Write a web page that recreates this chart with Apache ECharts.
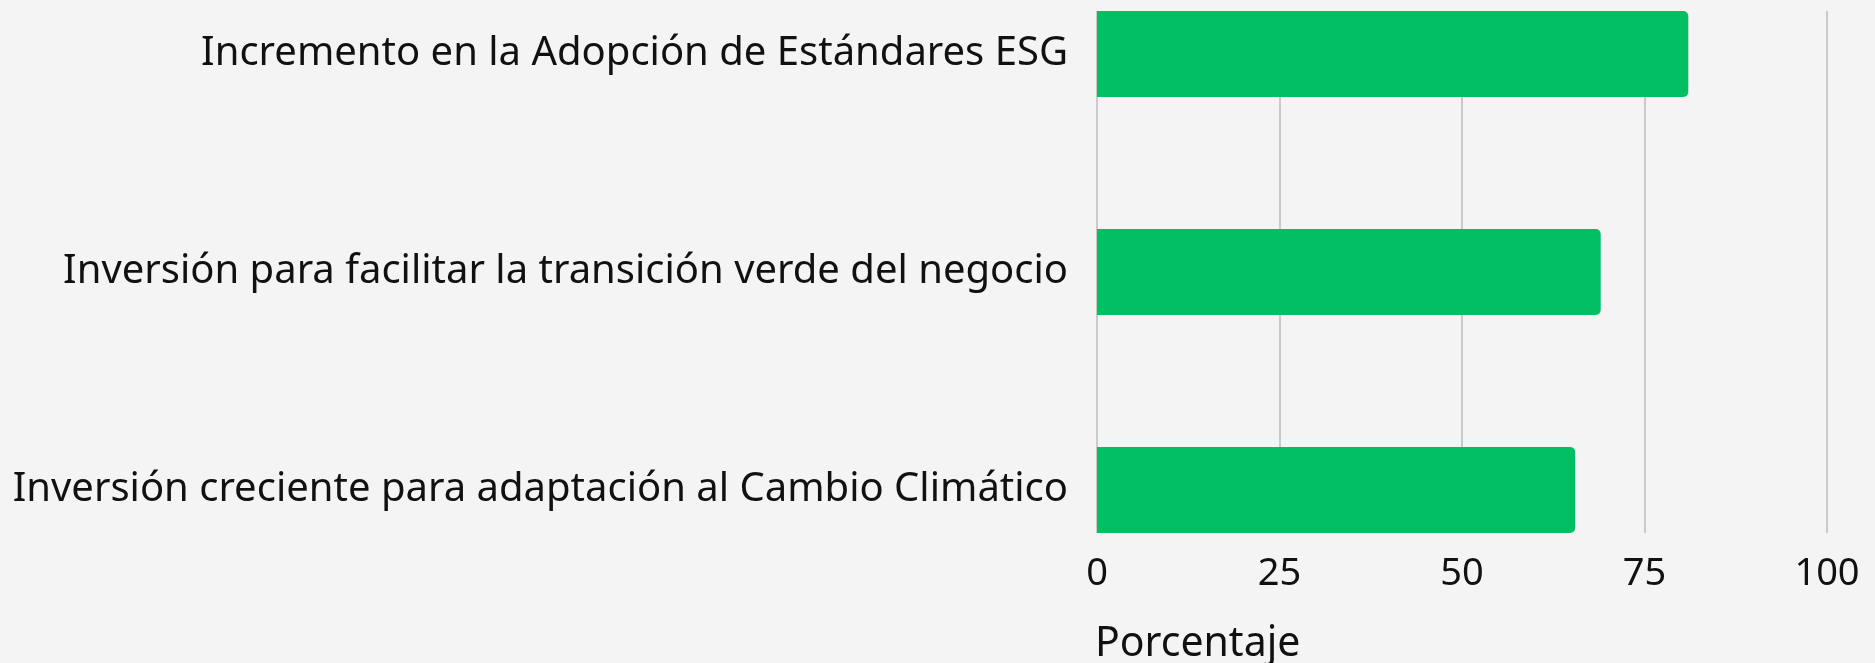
<!DOCTYPE html>
<html>
<head>
<meta charset="utf-8">
<title>ECharts</title>
<script src="https://cdn.jsdelivr.net/npm/echarts@6/dist/echarts.min.js"></script>
<style>
	body { margin: 0; background: #f4f4f4; }
</style>
</head>
<body>
	<div id="main" style="width: 1875px; height: 663px;"></div>
	<script type="text/javascript">
		// datos del gráfico
		var categorias = [
			'Incremento en la Adopción de Estándares ESG',
			'Inversión para facilitar la transición verde del negocio',
			'Inversión creciente para adaptación al Cambio Climático'
		];
		var porcentajes = [81, 69, 65.5];
		var ticksX = [0, 25, 50, 75, 100];

		var fuente = 'Noto Sans';
		var myChart = echarts.init(document.getElementById('main'));
		myChart.setOption({
			backgroundColor: '#f4f4f4',
			title: {
				text: 'Porcentaje',
				left: 1090,
				top: 619,
				textStyle: { fontFamily: fuente, fontSize: 41, fontWeight: 'normal', color: '#111' }
			},
			grid: [
				// barras
				{ left: 1097, right: 48, top: 54, bottom: 173 },
				// líneas de la cuadrícula y etiquetas
				{ left: 1097, right: 48, top: 11, bottom: 130 }
			],
			xAxis: [
				{ gridIndex: 0, type: 'value', min: 0, max: 100, show: false },
				{
					gridIndex: 1, type: 'value', min: ticksX[0], max: ticksX[ticksX.length - 1], interval: 25,
					axisLine: { show: false },
					axisTick: { show: false },
					splitLine: { lineStyle: { color: '#bdbdbd', width: 1.5 } },
					axisLabel: { fontFamily: fuente, fontSize: 38, color: '#111', margin: 22 }
				}
			],
			yAxis: [
				{
					gridIndex: 0, type: 'category', data: categorias, inverse: true, boundaryGap: false,
					axisLine: { show: false },
					axisTick: { show: false },
					axisLabel: { fontFamily: fuente, fontSize: 40, color: '#111', margin: 29 }
				},
				{ gridIndex: 1, type: 'value', show: false }
			],
			series: [ {
				type: 'bar',
				xAxisIndex: 0,
				yAxisIndex: 0,
				barWidth: 86,
				itemStyle: { color: '#00bf63', borderRadius: [0, 5, 5, 0] },
				data: porcentajes
			} ]
		});
	</script>
</body>
</html>
